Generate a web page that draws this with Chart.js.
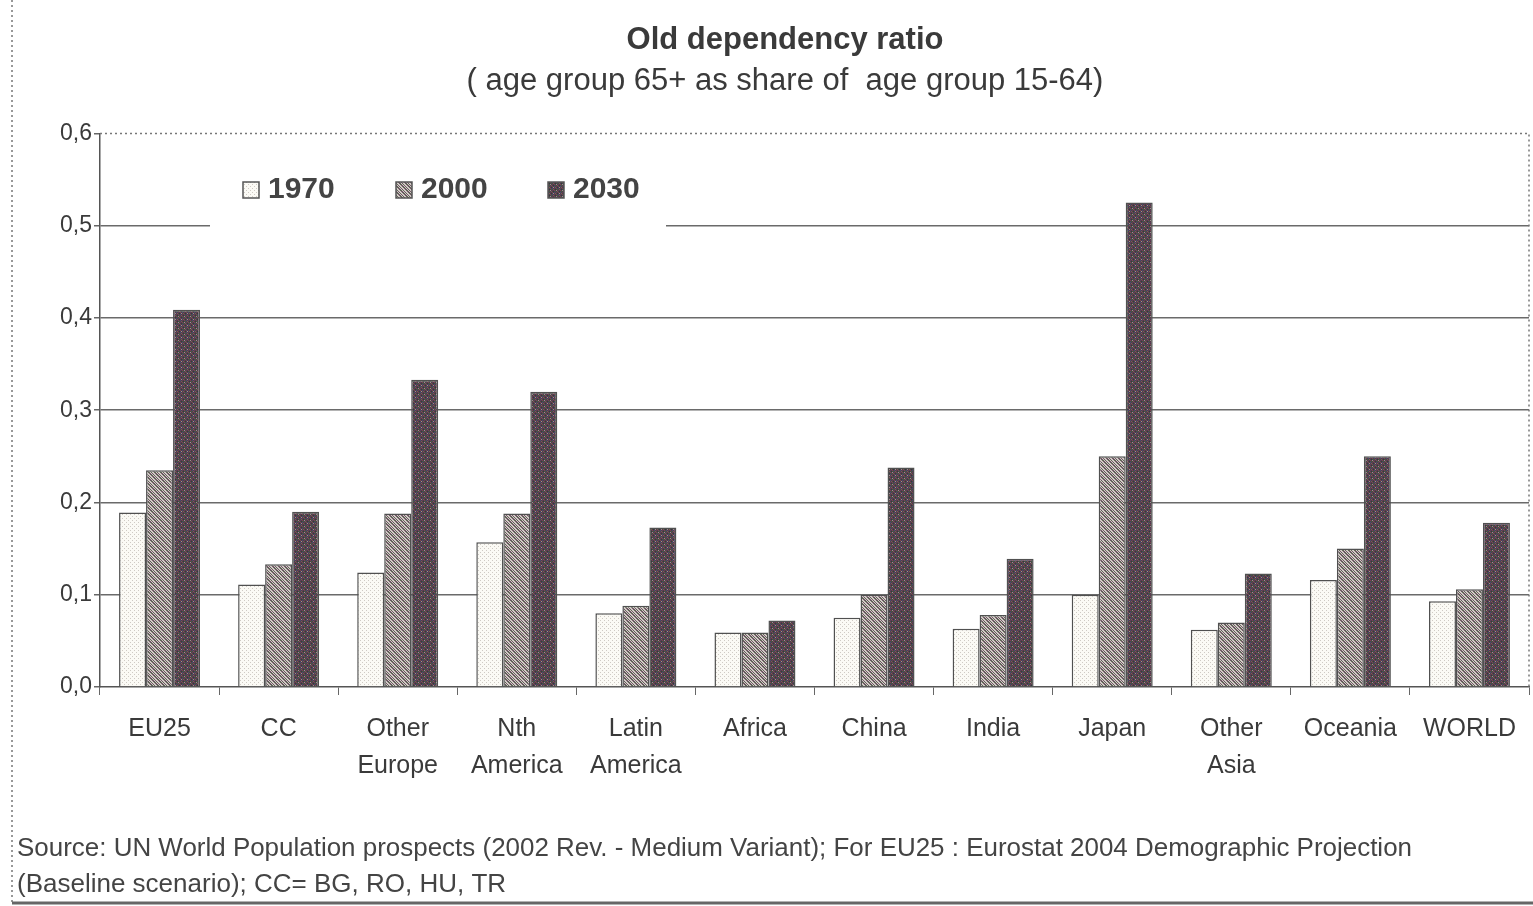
<!DOCTYPE html>
<html>
<head>
<meta charset="utf-8">
<script src="https://cdn.jsdelivr.net/npm/chart.js@4"></script>
<style>
  body { margin: 0; background: #fff; }
  #wrap { width: 1533px; height: 906px; }
</style>
</head>
<body>
<div id="wrap"><canvas id="ratioChart" width="1533" height="906"></canvas></div>
<script>
// categories and series
const regions = [['EU25'], ['CC'], ['Other', 'Europe'], ['Nth', 'America'], ['Latin', 'America'], ['Africa'],
    ['China'], ['India'], ['Japan'], ['Other', 'Asia'], ['Oceania'], ['WORLD']];
const years = ['1970', '2000', '2030'];
const ratio1970 = [0.189, 0.111, 0.124, 0.157, 0.080, 0.059, 0.075, 0.063, 0.100, 0.062, 0.116, 0.093];
const ratio2000 = [0.235, 0.133, 0.188, 0.188, 0.088, 0.059, 0.100, 0.078, 0.250, 0.070, 0.150, 0.106];
const ratio2030 = [0.409, 0.190, 0.333, 0.320, 0.173, 0.072, 0.238, 0.139, 0.525, 0.123, 0.250, 0.178];
const yTicks = [0, 0.1, 0.2, 0.3, 0.4, 0.5, 0.6];

const titleText = 'Old dependency ratio';
const subtitleText = '( age group 65+ as share of  age group 15-64)';
const sourceLines = [
    'Source: UN World Population prospects (2002 Rev. - Medium Variant); For EU25 : Eurostat 2004 Demographic Projection',
    '(Baseline scenario); CC= BG, RO, HU, TR'
];

const FONT = '"Liberation Sans", Arial, sans-serif';

// small pixel patterns imitating the scanned hatch fills
function makePattern(size, base, painter) {
    const c = document.createElement('canvas');
    c.width = size; c.height = size;
    const g = c.getContext('2d');
    g.fillStyle = base;
    g.fillRect(0, 0, size, size);
    painter(g);
    return g.createPattern(c, 'repeat');
}
const ctx = document.getElementById('ratioChart').getContext('2d');

const fill1970 = makePattern(4, '#fbfaf5', g => {
    g.fillStyle = '#cfcac4';
    g.fillRect(0, 0, 1, 1);
    g.fillRect(2, 2, 1, 1);
});
const fill2000 = makePattern(6, '#d2cac6', g => {
    const cols = ['#64585e', '#5f6656', '#735a66'];
    for (let i = 0; i < 6; i++) {
        g.fillStyle = cols[i % 3];
        g.fillRect(i, i, 1, 1);
        g.fillRect((i + 1) % 6, i, 1, 1);
        g.fillRect((i + 3) % 6, i, 1, 1);
    }
});
const fill2030 = makePattern(6, '#4e3f4c', g => {
    const cols = ['#7a4450', '#3f6040', '#4a4a72', '#7a5e4e', '#653a5a', '#2f3f3a'];
    for (let y = 0; y < 6; y++) {
        for (let x = 0; x < 6; x += 2) {
            g.fillStyle = cols[(x + y) % 6];
            g.fillRect(x + (y % 2), y, 1, 1);
        }
    }
    g.fillStyle = '#a09090';
    g.fillRect(1, 1, 1, 1);
    g.fillRect(4, 4, 1, 1);
});
const fills = [fill1970, fill2000, fill2030];

// legend sits inside the plot area, covering the 0,5 gridline
const insideLegend = {
    id: 'insideLegend',
    afterDatasetsDraw(chart) {
        const c = chart.ctx;
        const y = chart.scales.y.getPixelForValue(0.5);
        c.save();
        c.fillStyle = '#fff';
        c.fillRect(210, y - 4, 456, 8);
        const items = [[243, '1970'], [396, '2000'], [548, '2030']];
        c.font = 'bold 30px ' + FONT;
        c.textBaseline = 'middle';
        items.forEach((it, i) => {
            c.fillStyle = fills[i];
            c.fillRect(it[0], 182, 16, 16);
            c.strokeStyle = '#555';
            c.lineWidth = 1.5;
            c.strokeRect(it[0], 182, 16, 16);
            c.fillStyle = '#444';
            c.fillText(it[1], it[0] + 25, 190);
        });
        c.restore();
    },
    afterDraw(chart) {
        const c = chart.ctx;
        const a = chart.chartArea;
        c.save();
        // dotted top and right border of the plot
        c.strokeStyle = '#777';
        c.lineWidth = 1.5;
        c.setLineDash([2, 3]);
        c.beginPath();
        c.moveTo(a.left, a.top);
        c.lineTo(a.right, a.top);
        c.lineTo(a.right, a.bottom);
        c.stroke();
        // outer frame of the scanned figure
        c.beginPath();
        c.moveTo(12, 0);
        c.lineTo(12, 902);
        c.stroke();
        c.setLineDash([]);
        c.strokeStyle = '#666';
        c.lineWidth = 3;
        c.beginPath();
        c.moveTo(12, 903);
        c.lineTo(1533, 903);
        c.stroke();
        // source note
        c.fillStyle = '#444';
        c.font = '26px ' + FONT;
        c.textBaseline = 'alphabetic';
        c.fillText(sourceLines[0], 17, 856, 1395);
        c.fillText(sourceLines[1], 17, 892);
        c.restore();
    }
};

new Chart(ctx, {
    type: 'bar',
    data: {
        labels: regions,
        datasets: [
            { label: years[0], data: ratio1970, backgroundColor: fill1970 },
            { label: years[1], data: ratio2000, backgroundColor: fill2000 },
            { label: years[2], data: ratio2030, backgroundColor: fill2030 }
        ].map(d => Object.assign(d, {
            borderColor: '#505050',
            borderWidth: 1.5,
            barPercentage: 1,
            categoryPercentage: 0.68
        }))
    },
    options: {
        responsive: false,
        animation: false,
        layout: { padding: { left: 41, right: 4, top: 0, bottom: 122 } },
        plugins: {
            legend: { display: false },
            tooltip: { enabled: false },
            title: {
                display: true,
                text: titleText,
                color: '#3a3a3a',
                font: { family: FONT, size: 31, weight: 'bold' },
                padding: { top: 22, bottom: 4 }
            },
            subtitle: {
                display: true,
                text: subtitleText,
                color: '#3a3a3a',
                font: { family: FONT, size: 31 },
                padding: { top: 0, bottom: 33 }
            }
        },
        scales: {
            x: {
                afterFit(scale) { scale.height = 97; },
                grid: { drawOnChartArea: false, tickLength: 8, color: '#666', offset: true },
                border: { color: '#555', width: 1.5 },
                ticks: {
                    color: '#3a3a3a',
                    font: { family: FONT, size: 25, lineHeight: 1.5 },
                    padding: 15,
                    maxRotation: 0,
                    autoSkip: false
                }
            },
            y: {
                min: 0,
                max: 0.6,
                afterFit(scale) { scale.width = 59; },
                afterBuildTicks(scale) { scale.ticks = yTicks.map(v => ({ value: v })); },
                grid: {
                    color: c => (c.tick && c.tick.value >= 0.6) || (c.tick && c.tick.value === 0) ? 'rgba(0,0,0,0)' : '#6a6a6a',
                    lineWidth: 1.5,
                    tickLength: 6,
                    tickColor: '#666'
                },
                border: { color: '#555', width: 1.5 },
                ticks: {
                    color: '#3a3a3a',
                    font: { family: FONT, size: 23 },
                    padding: 2,
                    callback: v => v.toFixed(1).replace('.', ',')
                }
            }
        }
    },
    plugins: [insideLegend]
});
</script>
</body>
</html>
